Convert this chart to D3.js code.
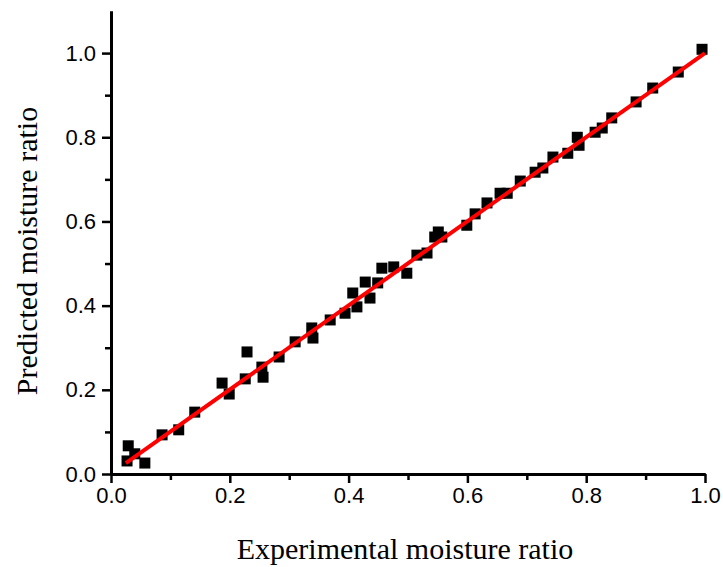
<!DOCTYPE html>
<html>
<head>
<meta charset="utf-8">
<script src="https://cdn.jsdelivr.net/npm/d3@7"></script>
<style>
  body { margin: 0; background: #fff; }
</style>
</head>
<body>
<svg id="chart" width="723" height="567"></svg>
<script>
// experimental vs predicted moisture ratio
const experimental = [
  0.027, 0.029, 0.040, 0.057, 0.086, 0.114, 0.141, 0.187, 0.199, 0.229,
  0.226, 0.254, 0.256, 0.283, 0.310, 0.338, 0.340, 0.369, 0.394, 0.407,
  0.414, 0.428, 0.436, 0.449, 0.456, 0.476, 0.498, 0.515, 0.532, 0.545,
  0.551, 0.557, 0.599, 0.613, 0.633, 0.655, 0.667, 0.689, 0.714, 0.727,
  0.744, 0.769, 0.785, 0.788, 0.815, 0.827, 0.843, 0.884, 0.912, 0.955,
  0.995
];
const predicted = [
  0.031, 0.067, 0.048, 0.026, 0.093, 0.105, 0.147, 0.216, 0.190, 0.290,
  0.226, 0.254, 0.230, 0.278, 0.314, 0.347, 0.323, 0.366, 0.382, 0.430,
  0.397, 0.456, 0.418, 0.454, 0.489, 0.492, 0.477, 0.520, 0.525, 0.563,
  0.575, 0.563, 0.591, 0.618, 0.644, 0.667, 0.667, 0.696, 0.717, 0.727,
  0.753, 0.762, 0.800, 0.781, 0.812, 0.822, 0.846, 0.884, 0.917, 0.955,
  1.009
];
// fitted line end points
const fitX = [0.025, 1.0];
const fitY = [0.026, 1.0];
const majorTicks = [0, 0.2, 0.4, 0.6, 0.8, 1.0];
const minorTicks = [0.1, 0.3, 0.5, 0.7, 0.9];

const sansFont = '"Liberation Sans", Arial, sans-serif';
const serifFont = '"Liberation Serif", "Times New Roman", serif';

const svg = d3.select('#chart');
const x = d3.scaleLinear().domain([0, 1]).range([111, 705]);
const y = d3.scaleLinear().domain([0, 1.1]).range([474, 11]);

// axes
const xAxis = d3.axisBottom(x).tickValues(majorTicks).tickFormat(d3.format('.1f')).tickSize(9).tickSizeOuter(0);
const xMinor = d3.axisBottom(x).tickValues(minorTicks).tickFormat('').tickSize(6).tickSizeOuter(0);
const yAxis = d3.axisLeft(y).tickValues(majorTicks).tickFormat(d3.format('.1f')).tickSize(9).tickSizeOuter(0);
const yMinor = d3.axisLeft(y).tickValues(minorTicks).tickFormat('').tickSize(6).tickSizeOuter(0);

function styleAxis(g) {
  g.attr('font-family', sansFont).attr('font-size', 22);
  g.select('.domain').attr('stroke', '#000').attr('stroke-width', 3);
  g.selectAll('.tick line').attr('stroke', '#000').attr('stroke-width', 2.5);
  g.selectAll('.tick text').attr('fill', '#000');
}

const gx = svg.append('g').attr('transform', 'translate(0,474)').call(xAxis).call(styleAxis);
gx.selectAll('.tick text').attr('y', 13).attr('dy', '0.71em');
svg.append('g').attr('transform', 'translate(0,474)').call(xMinor).call(styleAxis);
const gy = svg.append('g').attr('transform', 'translate(111,0)').call(yAxis).call(styleAxis);
gy.selectAll('.tick text').attr('x', -15);
svg.append('g').attr('transform', 'translate(111,0)').call(yMinor).call(styleAxis);

// points
const pts = experimental.map((v, i) => ({ ex: v, pr: predicted[i] }));
const size = 11;
svg.append('g').selectAll('rect')
  .data(pts)
  .enter()
  .append('rect')
  .attr('x', d => x(d.ex) - size / 2)
  .attr('y', d => y(d.pr) - size / 2)
  .attr('width', size)
  .attr('height', size)
  .attr('fill', '#000');

// fit line
svg.append('path')
  .datum(fitX.map((v, i) => [v, fitY[i]]))
  .attr('d', d3.line().x(d => x(d[0])).y(d => y(d[1])))
  .attr('stroke', '#ff0000')
  .attr('stroke-width', 4)
  .attr('fill', 'none');

// titles
svg.append('text')
  .attr('x', 405)
  .attr('y', 559)
  .attr('text-anchor', 'middle')
  .attr('font-family', serifFont)
  .attr('font-size', 30)
  .attr('fill', '#000')
  .text('Experimental moisture ratio');
svg.append('text')
  .attr('transform', 'translate(37,251) rotate(-90)')
  .attr('text-anchor', 'middle')
  .attr('font-family', serifFont)
  .attr('font-size', 30)
  .attr('fill', '#000')
  .text('Predicted moisture ratio');
</script>
</body>
</html>
